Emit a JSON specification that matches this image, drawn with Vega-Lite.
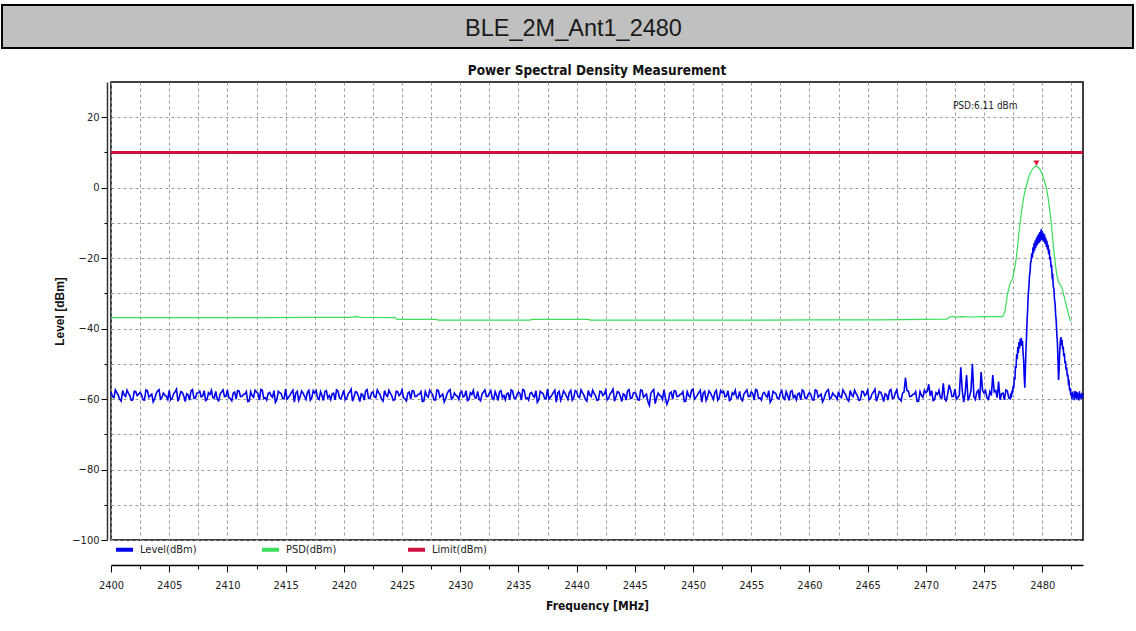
{
  "$schema": "https://vega.github.io/schema/vega-lite/v6.json",
  "background": "white",
  "padding": {"left": 1, "top": 4, "right": 0, "bottom": 0},
  "config": {"view": {"stroke": null}, "font": "Liberation Sans"},
  "datasets": {
    "header": [{"label": "BLE_2M_Ant1_2480"}],
    "spacer": [],
    "limit": [{"f": 2400, "v": 10}, {"f": 2483.5, "v": 10}],
    "peak": [{"f": 2479.5, "v": 6.11, "label": "PSD:6.11 dBm"}],
    "psd": [
      {"f": 2400, "v": -36.9}, {"f": 2410, "v": -36.9}, {"f": 2418, "v": -36.8}, {"f": 2420.5, "v": -36.8}, {"f": 2421, "v": -36.6}, {"f": 2421.5, "v": -36.8},
      {"f": 2424.4, "v": -36.9}, {"f": 2424.6, "v": -37.4}, {"f": 2427.9, "v": -37.4}, {"f": 2428.1, "v": -37.6}, {"f": 2436, "v": -37.6}, {"f": 2436.2, "v": -37.4},
      {"f": 2441, "v": -37.4}, {"f": 2441.2, "v": -37.6}, {"f": 2455, "v": -37.6}, {"f": 2460, "v": -37.5}, {"f": 2466, "v": -37.5}, {"f": 2471.8, "v": -37.3},
      {"f": 2472.0, "v": -36.8}, {"f": 2472.3, "v": -36.5}, {"f": 2472.5, "v": -36.8}, {"f": 2473, "v": -36.6}, {"f": 2474, "v": -36.7}, {"f": 2475, "v": -36.6},
      {"f": 2476.6, "v": -36.6}, {"f": 2476.8, "v": -35}, {"f": 2477.0, "v": -30.5}, {"f": 2477.2, "v": -27.5}, {"f": 2477.45, "v": -25.8}, {"f": 2477.6, "v": -23.5},
      {"f": 2477.75, "v": -20.5}, {"f": 2477.9, "v": -16}, {"f": 2478.0, "v": -12.8}, {"f": 2478.15, "v": -8.5}, {"f": 2478.3, "v": -4.8}, {"f": 2478.45, "v": -2},
      {"f": 2478.6, "v": 0.2}, {"f": 2478.8, "v": 2.6}, {"f": 2479.0, "v": 4.4}, {"f": 2479.2, "v": 5.5}, {"f": 2479.4, "v": 6.05}, {"f": 2479.5, "v": 6.11},
      {"f": 2479.6, "v": 6.0}, {"f": 2479.8, "v": 5.2}, {"f": 2480.0, "v": 3.8}, {"f": 2480.2, "v": 1.8}, {"f": 2480.35, "v": 0}, {"f": 2480.5, "v": -2.8},
      {"f": 2480.65, "v": -6.5}, {"f": 2480.8, "v": -11}, {"f": 2480.95, "v": -16.5}, {"f": 2481.1, "v": -21}, {"f": 2481.25, "v": -24.8}, {"f": 2481.4, "v": -26.8},
      {"f": 2481.55, "v": -27.6}, {"f": 2481.7, "v": -28.5}, {"f": 2481.85, "v": -30.5}, {"f": 2482.0, "v": -32.5}, {"f": 2482.15, "v": -34.5}, {"f": 2482.3, "v": -36.5},
      {"f": 2482.45, "v": -38}
    ],
    "level": [
      {"f":2400,"v":-57.9},{"f":2400.25,"v":-59.6},{"f":2400.5,"v":-58.2},{"f":2400.75,"v":-60.1},{"f":2401,"v":-57.6},{"f":2401.25,"v":-59.3},{"f":2401.5,"v":-58.4},{"f":2401.75,"v":-60.4},{"f":2402,"v":-57.8},{"f":2402.25,"v":-59.0},
      {"f":2402.5,"v":-58.1},{"f":2402.75,"v":-60.2},{"f":2403,"v":-57.4},{"f":2403.25,"v":-59.5},{"f":2403.5,"v":-58.6},{"f":2403.75,"v":-59.9},{"f":2404,"v":-57.7},{"f":2404.25,"v":-60.0},{"f":2404.5,"v":-58.3},{"f":2404.75,"v":-59.2},
      {"f":2405,"v":-57.5},{"f":2405.25,"v":-59.8},{"f":2405.5,"v":-58.0},{"f":2405.75,"v":-60.6},{"f":2406,"v":-57.9},{"f":2406.25,"v":-59.1},{"f":2406.5,"v":-58.5},{"f":2406.75,"v":-60.3},{"f":2407,"v":-57.3},{"f":2407.25,"v":-59.7},
      {"f":2407.5,"v":-58.2},{"f":2407.75,"v":-59.4},{"f":2408,"v":-57.6},{"f":2408.25,"v":-60.1},{"f":2408.5,"v":-58.7},{"f":2408.75,"v":-59.6},{"f":2409,"v":-57.8},{"f":2409.25,"v":-60.5},{"f":2409.5,"v":-58.0},{"f":2409.75,"v":-59.3},
      {"f":2410,"v":-57.4},{"f":2410.25,"v":-59.9},{"f":2410.5,"v":-58.3},{"f":2410.75,"v":-60.0},{"f":2411,"v":-57.7},{"f":2411.25,"v":-59.2},{"f":2411.5,"v":-58.6},{"f":2411.75,"v":-60.7},{"f":2412,"v":-57.9},{"f":2412.25,"v":-59.5},
      {"f":2412.5,"v":-58.0},{"f":2412.75,"v":-60.3},{"f":2413,"v":-57.5},{"f":2413.25,"v":-59.6},{"f":2413.5,"v":-58.4},{"f":2413.75,"v":-59.0},{"f":2414,"v":-57.6},{"f":2414.25,"v":-60.2},{"f":2414.5,"v":-58.2},{"f":2414.75,"v":-59.8},
      {"f":2415,"v":-57.2},{"f":2415.25,"v":-59.5},{"f":2415.5,"v":-58.1},{"f":2415.75,"v":-60.9},{"f":2416,"v":-57.8},{"f":2416.25,"v":-59.3},{"f":2416.5,"v":-58.3},{"f":2416.75,"v":-60.1},{"f":2417,"v":-57.5},{"f":2417.25,"v":-59.6},
      {"f":2417.5,"v":-58.3},{"f":2417.75,"v":-59.7},{"f":2418,"v":-57.9},{"f":2418.25,"v":-60.4},{"f":2418.5,"v":-57.6},{"f":2418.75,"v":-59.0},{"f":2419,"v":-58.5},{"f":2419.25,"v":-60.2},{"f":2419.5,"v":-57.7},{"f":2419.75,"v":-59.9},
      {"f":2420,"v":-57.5},{"f":2420.25,"v":-59.8},{"f":2420.5,"v":-58.0},{"f":2420.75,"v":-60.6},{"f":2421,"v":-57.9},{"f":2421.25,"v":-59.1},{"f":2421.5,"v":-58.5},{"f":2421.75,"v":-60.3},{"f":2422,"v":-57.3},{"f":2422.25,"v":-59.7},
      {"f":2422.5,"v":-57.9},{"f":2422.75,"v":-59.6},{"f":2423,"v":-58.2},{"f":2423.25,"v":-60.1},{"f":2423.5,"v":-57.6},{"f":2423.75,"v":-59.3},{"f":2424,"v":-58.4},{"f":2424.25,"v":-60.4},{"f":2424.5,"v":-57.8},{"f":2424.75,"v":-59.0},
      {"f":2425,"v":-57.4},{"f":2425.25,"v":-59.9},{"f":2425.5,"v":-58.3},{"f":2425.75,"v":-60.0},{"f":2426,"v":-57.7},{"f":2426.25,"v":-59.2},{"f":2426.5,"v":-58.6},{"f":2426.75,"v":-60.7},{"f":2427,"v":-57.9},{"f":2427.25,"v":-59.5},
      {"f":2427.5,"v":-58.1},{"f":2427.75,"v":-60.2},{"f":2428,"v":-57.4},{"f":2428.25,"v":-59.5},{"f":2428.5,"v":-58.6},{"f":2428.75,"v":-59.9},{"f":2429,"v":-57.7},{"f":2429.25,"v":-60.0},{"f":2429.5,"v":-58.3},{"f":2429.75,"v":-59.2},
      {"f":2430,"v":-58.2},{"f":2430.25,"v":-59.4},{"f":2430.5,"v":-57.6},{"f":2430.75,"v":-60.1},{"f":2431,"v":-58.7},{"f":2431.25,"v":-59.6},{"f":2431.5,"v":-57.8},{"f":2431.75,"v":-60.5},{"f":2432,"v":-58.0},{"f":2432.25,"v":-59.3},
      {"f":2432.5,"v":-58.3},{"f":2432.75,"v":-59.7},{"f":2433,"v":-57.9},{"f":2433.25,"v":-60.4},{"f":2433.5,"v":-57.6},{"f":2433.75,"v":-59.0},{"f":2434,"v":-58.5},{"f":2434.25,"v":-60.2},{"f":2434.5,"v":-57.7},{"f":2434.75,"v":-59.9},
      {"f":2435,"v":-58.0},{"f":2435.25,"v":-60.3},{"f":2435.5,"v":-57.5},{"f":2435.75,"v":-59.6},{"f":2436,"v":-58.4},{"f":2436.25,"v":-59.0},{"f":2436.5,"v":-57.6},{"f":2436.75,"v":-60.2},{"f":2437,"v":-58.2},{"f":2437.25,"v":-59.8},
      {"f":2437.5,"v":-57.2},{"f":2437.75,"v":-59.5},{"f":2438,"v":-58.1},{"f":2438.25,"v":-60.9},{"f":2438.5,"v":-57.8},{"f":2438.75,"v":-59.3},{"f":2439,"v":-58.3},{"f":2439.25,"v":-60.1},{"f":2439.5,"v":-57.5},{"f":2439.75,"v":-59.6},
      {"f":2440,"v":-57.9},{"f":2440.25,"v":-59.6},{"f":2440.5,"v":-58.2},{"f":2440.75,"v":-60.1},{"f":2441,"v":-57.6},{"f":2441.25,"v":-59.3},{"f":2441.5,"v":-58.4},{"f":2441.75,"v":-60.4},{"f":2442,"v":-57.8},{"f":2442.25,"v":-59.0},
      {"f":2442.5,"v":-57.5},{"f":2442.75,"v":-59.8},{"f":2443,"v":-58.0},{"f":2443.25,"v":-60.6},{"f":2443.5,"v":-57.9},{"f":2443.75,"v":-59.1},{"f":2444,"v":-58.5},{"f":2444.25,"v":-60.3},{"f":2444.5,"v":-57.3},{"f":2444.75,"v":-59.7},
      {"f":2445,"v":-58.1},{"f":2445.25,"v":-60.2},{"f":2445.5,"v":-57.4},{"f":2445.75,"v":-59.5},{"f":2446,"v":-58.6},{"f":2446.25,"v":-61.8},{"f":2446.5,"v":-57.7},{"f":2446.75,"v":-61.3},{"f":2447,"v":-58.3},{"f":2447.25,"v":-59.2},
      {"f":2447.5,"v":-57.4},{"f":2447.75,"v":-61.5},{"f":2448,"v":-58.3},{"f":2448.25,"v":-60.0},{"f":2448.5,"v":-57.7},{"f":2448.75,"v":-59.2},{"f":2449,"v":-58.6},{"f":2449.25,"v":-60.7},{"f":2449.5,"v":-57.9},{"f":2449.75,"v":-59.5},
      {"f":2450,"v":-57.2},{"f":2450.25,"v":-59.5},{"f":2450.5,"v":-58.1},{"f":2450.75,"v":-60.9},{"f":2451,"v":-57.8},{"f":2451.25,"v":-59.3},{"f":2451.5,"v":-58.3},{"f":2451.75,"v":-60.1},{"f":2452,"v":-57.5},{"f":2452.25,"v":-59.6},
      {"f":2452.5,"v":-58.2},{"f":2452.75,"v":-59.4},{"f":2453,"v":-57.6},{"f":2453.25,"v":-60.1},{"f":2453.5,"v":-58.7},{"f":2453.75,"v":-59.6},{"f":2454,"v":-57.8},{"f":2454.25,"v":-60.5},{"f":2454.5,"v":-58.0},{"f":2454.75,"v":-59.3},
      {"f":2455,"v":-58.0},{"f":2455.25,"v":-60.3},{"f":2455.5,"v":-57.5},{"f":2455.75,"v":-59.6},{"f":2456,"v":-58.4},{"f":2456.25,"v":-59.0},{"f":2456.5,"v":-57.6},{"f":2456.75,"v":-60.2},{"f":2457,"v":-58.2},{"f":2457.25,"v":-59.8},
      {"f":2457.5,"v":-58.3},{"f":2457.75,"v":-59.7},{"f":2458,"v":-57.9},{"f":2458.25,"v":-60.4},{"f":2458.5,"v":-57.6},{"f":2458.75,"v":-59.0},{"f":2459,"v":-58.5},{"f":2459.25,"v":-60.2},{"f":2459.5,"v":-57.7},{"f":2459.75,"v":-59.9},
      {"f":2460,"v":-58.1},{"f":2460.25,"v":-60.2},{"f":2460.5,"v":-57.4},{"f":2460.75,"v":-59.5},{"f":2461,"v":-58.6},{"f":2461.25,"v":-59.9},{"f":2461.5,"v":-57.7},{"f":2461.75,"v":-60.0},{"f":2462,"v":-58.3},{"f":2462.25,"v":-59.2},
      {"f":2462.5,"v":-57.9},{"f":2462.75,"v":-59.6},{"f":2463,"v":-58.2},{"f":2463.25,"v":-60.1},{"f":2463.5,"v":-57.6},{"f":2463.75,"v":-59.3},{"f":2464,"v":-58.4},{"f":2464.25,"v":-60.4},{"f":2464.5,"v":-57.8},{"f":2464.75,"v":-59.0},
      {"f":2465,"v":-57.5},{"f":2465.25,"v":-59.8},{"f":2465.5,"v":-58.0},{"f":2465.75,"v":-60.6},{"f":2466,"v":-57.9},{"f":2466.25,"v":-59.1},{"f":2466.5,"v":-58.5},{"f":2466.75,"v":-60.3},{"f":2467,"v":-57.3},{"f":2467.25,"v":-59.7},
      {"f":2467.5,"v":-57.4},{"f":2467.75,"v":-59.9},{"f":2468,"v":-58.3},{"f":2468.25,"v":-54.0},{"f":2468.5,"v":-57.7},{"f":2468.75,"v":-59.2},{"f":2469,"v":-58.6},{"f":2469.25,"v":-60.7},{"f":2469.5,"v":-57.9},{"f":2469.75,"v":-59.5},
      {"f":2470,"v":-58.2},{"f":2470.25,"v":-55.8},{"f":2470.5,"v":-57.6},{"f":2470.75,"v":-60.1},{"f":2471,"v":-58.7},{"f":2471.25,"v":-59.6},{"f":2471.5,"v":-55.5},{"f":2471.75,"v":-60.5},{"f":2472,"v":-56.0},{"f":2472.25,"v":-59.3},
      {"f":2472.5,"v":-57.2},{"f":2472.75,"v":-59.5},{"f":2473,"v":-51.0},{"f":2473.25,"v":-60.9},{"f":2473.5,"v":-53.2},{"f":2473.75,"v":-59.3},{"f":2474,"v":-50.0},{"f":2474.25,"v":-60.1},{"f":2474.5,"v":-57.5},{"f":2474.75,"v":-52.3},
      {"f":2475,"v":-58.3},{"f":2475.25,"v":-59.7},{"f":2475.5,"v":-57.9},{"f":2475.75,"v":-53.2},{"f":2476,"v":-57.6},{"f":2476.25,"v":-55.0},{"f":2476.5,"v":-58.5},{"f":2476.75,"v":-60.2},{"f":2477,"v":-57.7},{"f":2477.25,"v":-59.9},
      {"f":2400.125,"v":-59.3},{"f":2400.375,"v":-57.4},{"f":2400.625,"v":-58.9},{"f":2400.875,"v":-60.6},{"f":2401.125,"v":-58.8},{"f":2401.375,"v":-57.5},{"f":2401.625,"v":-59.1},{"f":2401.875,"v":-60.2},{"f":2402.125,"v":-57.9},{"f":2402.375,"v":-58.6},
      {"f":2402.625,"v":-58.7},{"f":2402.875,"v":-60.3},{"f":2403.125,"v":-57.6},{"f":2403.375,"v":-59.0},{"f":2403.625,"v":-60.8},{"f":2403.875,"v":-58.4},{"f":2404.125,"v":-57.3},{"f":2404.375,"v":-59.6},{"f":2404.625,"v":-58.9},{"f":2404.875,"v":-60.1},
      {"f":2405.125,"v":-60.2},{"f":2405.375,"v":-58.5},{"f":2405.625,"v":-57.2},{"f":2405.875,"v":-59.4},{"f":2406.125,"v":-58.1},{"f":2406.375,"v":-60.7},{"f":2406.625,"v":-58.8},{"f":2406.875,"v":-57.7},{"f":2407.125,"v":-59.8},{"f":2407.375,"v":-58.3},
      {"f":2407.625,"v":-57.8},{"f":2407.875,"v":-59.1},{"f":2408.125,"v":-60.4},{"f":2408.375,"v":-58.2},{"f":2408.625,"v":-57.5},{"f":2408.875,"v":-59.7},{"f":2409.125,"v":-60.0},{"f":2409.375,"v":-58.6},{"f":2409.625,"v":-57.4},{"f":2409.875,"v":-59.2},
      {"f":2410.125,"v":-59.6},{"f":2410.375,"v":-60.5},{"f":2410.625,"v":-58.0},{"f":2410.875,"v":-57.6},{"f":2411.125,"v":-59.3},{"f":2411.375,"v":-58.7},{"f":2411.625,"v":-57.9},{"f":2411.875,"v":-60.6},{"f":2412.125,"v":-59.0},{"f":2412.375,"v":-57.5},
      {"f":2412.625,"v":-58.4},{"f":2412.875,"v":-57.3},{"f":2413.125,"v":-59.8},{"f":2413.375,"v":-60.3},{"f":2413.625,"v":-58.1},{"f":2413.875,"v":-59.5},{"f":2414.125,"v":-60.9},{"f":2414.375,"v":-57.8},{"f":2414.625,"v":-58.5},{"f":2414.875,"v":-59.9},
      {"f":2415.125,"v":-60.0},{"f":2415.375,"v":-58.9},{"f":2415.625,"v":-57.5},{"f":2415.875,"v":-58.3},{"f":2416.125,"v":-60.4},{"f":2416.375,"v":-57.7},{"f":2416.625,"v":-59.2},{"f":2416.875,"v":-58.1},{"f":2417.125,"v":-60.3},{"f":2417.375,"v":-57.6},
      {"f":2417.625,"v":-57.6},{"f":2417.875,"v":-60.1},{"f":2418.125,"v":-59.0},{"f":2418.375,"v":-57.9},{"f":2418.625,"v":-59.6},{"f":2418.875,"v":-60.2},{"f":2419.125,"v":-58.3},{"f":2419.375,"v":-57.4},{"f":2419.625,"v":-59.7},{"f":2419.875,"v":-58.8},
      {"f":2420.125,"v":-60.2},{"f":2420.375,"v":-58.5},{"f":2420.625,"v":-57.2},{"f":2420.875,"v":-59.4},{"f":2421.125,"v":-58.1},{"f":2421.375,"v":-60.7},{"f":2421.625,"v":-58.8},{"f":2421.875,"v":-57.7},{"f":2422.125,"v":-59.8},{"f":2422.375,"v":-58.3},
      {"f":2422.625,"v":-59.3},{"f":2422.875,"v":-57.4},{"f":2423.125,"v":-58.9},{"f":2423.375,"v":-60.6},{"f":2423.625,"v":-58.8},{"f":2423.875,"v":-57.5},{"f":2424.125,"v":-59.1},{"f":2424.375,"v":-60.2},{"f":2424.625,"v":-57.9},{"f":2424.875,"v":-58.6},
      {"f":2425.125,"v":-59.6},{"f":2425.375,"v":-60.5},{"f":2425.625,"v":-58.0},{"f":2425.875,"v":-57.6},{"f":2426.125,"v":-59.3},{"f":2426.375,"v":-58.7},{"f":2426.625,"v":-57.9},{"f":2426.875,"v":-60.6},{"f":2427.125,"v":-59.0},{"f":2427.375,"v":-57.5},
      {"f":2427.625,"v":-58.7},{"f":2427.875,"v":-60.3},{"f":2428.125,"v":-57.6},{"f":2428.375,"v":-59.0},{"f":2428.625,"v":-60.8},{"f":2428.875,"v":-58.4},{"f":2429.125,"v":-57.3},{"f":2429.375,"v":-59.6},{"f":2429.625,"v":-58.9},{"f":2429.875,"v":-60.1},
      {"f":2430.125,"v":-57.8},{"f":2430.375,"v":-59.1},{"f":2430.625,"v":-60.4},{"f":2430.875,"v":-58.2},{"f":2431.125,"v":-57.5},{"f":2431.375,"v":-59.7},{"f":2431.625,"v":-60.0},{"f":2431.875,"v":-58.6},{"f":2432.125,"v":-57.4},{"f":2432.375,"v":-59.2},
      {"f":2432.625,"v":-57.6},{"f":2432.875,"v":-60.1},{"f":2433.125,"v":-59.0},{"f":2433.375,"v":-57.9},{"f":2433.625,"v":-59.6},{"f":2433.875,"v":-60.2},{"f":2434.125,"v":-58.3},{"f":2434.375,"v":-57.4},{"f":2434.625,"v":-59.7},{"f":2434.875,"v":-58.8},
      {"f":2435.125,"v":-58.4},{"f":2435.375,"v":-57.3},{"f":2435.625,"v":-59.8},{"f":2435.875,"v":-60.3},{"f":2436.125,"v":-58.1},{"f":2436.375,"v":-59.5},{"f":2436.625,"v":-60.9},{"f":2436.875,"v":-57.8},{"f":2437.125,"v":-58.5},{"f":2437.375,"v":-59.9},
      {"f":2437.625,"v":-60.0},{"f":2437.875,"v":-58.9},{"f":2438.125,"v":-57.5},{"f":2438.375,"v":-58.3},{"f":2438.625,"v":-60.4},{"f":2438.875,"v":-57.7},{"f":2439.125,"v":-59.2},{"f":2439.375,"v":-58.1},{"f":2439.625,"v":-60.3},{"f":2439.875,"v":-57.6},
      {"f":2440.125,"v":-59.3},{"f":2440.375,"v":-57.4},{"f":2440.625,"v":-58.9},{"f":2440.875,"v":-60.6},{"f":2441.125,"v":-58.8},{"f":2441.375,"v":-57.5},{"f":2441.625,"v":-59.1},{"f":2441.875,"v":-60.2},{"f":2442.125,"v":-57.9},{"f":2442.375,"v":-58.6},
      {"f":2442.625,"v":-60.2},{"f":2442.875,"v":-58.5},{"f":2443.125,"v":-57.2},{"f":2443.375,"v":-59.4},{"f":2443.625,"v":-58.1},{"f":2443.875,"v":-60.7},{"f":2444.125,"v":-58.8},{"f":2444.375,"v":-57.7},{"f":2444.625,"v":-59.8},{"f":2444.875,"v":-58.3},
      {"f":2445.125,"v":-58.7},{"f":2445.375,"v":-60.3},{"f":2445.625,"v":-57.6},{"f":2445.875,"v":-59.0},{"f":2446.125,"v":-60.8},{"f":2446.375,"v":-58.4},{"f":2446.625,"v":-57.3},{"f":2446.875,"v":-59.6},{"f":2447.125,"v":-58.9},{"f":2447.375,"v":-60.1},
      {"f":2447.625,"v":-59.6},{"f":2447.875,"v":-60.5},{"f":2448.125,"v":-58.0},{"f":2448.375,"v":-57.6},{"f":2448.625,"v":-59.3},{"f":2448.875,"v":-58.7},{"f":2449.125,"v":-57.9},{"f":2449.375,"v":-60.6},{"f":2449.625,"v":-59.0},{"f":2449.875,"v":-57.5},
      {"f":2450.125,"v":-60.0},{"f":2450.375,"v":-58.9},{"f":2450.625,"v":-57.5},{"f":2450.875,"v":-58.3},{"f":2451.125,"v":-60.4},{"f":2451.375,"v":-57.7},{"f":2451.625,"v":-59.2},{"f":2451.875,"v":-58.1},{"f":2452.125,"v":-60.3},{"f":2452.375,"v":-57.6},
      {"f":2452.625,"v":-57.8},{"f":2452.875,"v":-59.1},{"f":2453.125,"v":-60.4},{"f":2453.375,"v":-58.2},{"f":2453.625,"v":-57.5},{"f":2453.875,"v":-59.7},{"f":2454.125,"v":-60.0},{"f":2454.375,"v":-58.6},{"f":2454.625,"v":-57.4},{"f":2454.875,"v":-59.2},
      {"f":2455.125,"v":-58.4},{"f":2455.375,"v":-57.3},{"f":2455.625,"v":-59.8},{"f":2455.875,"v":-60.3},{"f":2456.125,"v":-58.1},{"f":2456.375,"v":-59.5},{"f":2456.625,"v":-60.9},{"f":2456.875,"v":-57.8},{"f":2457.125,"v":-58.5},{"f":2457.375,"v":-59.9},
      {"f":2457.625,"v":-57.6},{"f":2457.875,"v":-60.1},{"f":2458.125,"v":-59.0},{"f":2458.375,"v":-57.9},{"f":2458.625,"v":-59.6},{"f":2458.875,"v":-60.2},{"f":2459.125,"v":-58.3},{"f":2459.375,"v":-57.4},{"f":2459.625,"v":-59.7},{"f":2459.875,"v":-58.8},
      {"f":2460.125,"v":-58.7},{"f":2460.375,"v":-60.3},{"f":2460.625,"v":-57.6},{"f":2460.875,"v":-59.0},{"f":2461.125,"v":-60.8},{"f":2461.375,"v":-58.4},{"f":2461.625,"v":-57.3},{"f":2461.875,"v":-59.6},{"f":2462.125,"v":-58.9},{"f":2462.375,"v":-60.1},
      {"f":2462.625,"v":-59.3},{"f":2462.875,"v":-57.4},{"f":2463.125,"v":-58.9},{"f":2463.375,"v":-60.6},{"f":2463.625,"v":-58.8},{"f":2463.875,"v":-57.5},{"f":2464.125,"v":-59.1},{"f":2464.375,"v":-60.2},{"f":2464.625,"v":-57.9},{"f":2464.875,"v":-58.6},
      {"f":2465.125,"v":-60.2},{"f":2465.375,"v":-58.5},{"f":2465.625,"v":-57.2},{"f":2465.875,"v":-59.4},{"f":2466.125,"v":-58.1},{"f":2466.375,"v":-60.7},{"f":2466.625,"v":-58.8},{"f":2466.875,"v":-57.7},{"f":2467.125,"v":-59.8},{"f":2467.375,"v":-58.3},
      {"f":2467.625,"v":-59.6},{"f":2467.875,"v":-60.5},{"f":2468.125,"v":-58.0},{"f":2468.375,"v":-57.6},{"f":2468.625,"v":-59.3},{"f":2468.875,"v":-58.7},{"f":2469.125,"v":-57.9},{"f":2469.375,"v":-60.6},{"f":2469.625,"v":-59.0},{"f":2469.875,"v":-57.5},
      {"f":2470.125,"v":-57.8},{"f":2470.375,"v":-59.1},{"f":2470.625,"v":-60.4},{"f":2470.875,"v":-58.2},{"f":2471.125,"v":-57.5},{"f":2471.375,"v":-59.7},{"f":2471.625,"v":-60.0},{"f":2471.875,"v":-58.6},{"f":2472.125,"v":-57.4},{"f":2472.375,"v":-59.2},
      {"f":2472.625,"v":-60.0},{"f":2472.875,"v":-58.9},{"f":2473.125,"v":-57.5},{"f":2473.375,"v":-58.3},{"f":2473.625,"v":-60.4},{"f":2473.875,"v":-57.7},{"f":2474.125,"v":-59.2},{"f":2474.375,"v":-58.1},{"f":2474.625,"v":-60.3},{"f":2474.875,"v":-57.6},
      {"f":2475.125,"v":-57.6},{"f":2475.375,"v":-60.1},{"f":2475.625,"v":-59.0},{"f":2475.875,"v":-57.9},{"f":2476.125,"v":-59.6},{"f":2476.375,"v":-60.2},{"f":2476.625,"v":-58.3},{"f":2476.875,"v":-57.4},{"f":2477.125,"v":-59.7},
      {"f":2477.3,"v":-58.4},{"f":2477.35,"v":-59.6},{"f":2477.4,"v":-57.6},{"f":2477.45,"v":-58.4},{"f":2477.5,"v":-56.2},{"f":2477.55,"v":-56.9},{"f":2477.6,"v":-53.8},{"f":2477.65,"v":-54.5},{"f":2477.7,"v":-50.6},{"f":2477.75,"v":-51.2},
      {"f":2477.8,"v":-47.3},{"f":2477.85,"v":-48.6},{"f":2477.9,"v":-45.2},{"f":2477.95,"v":-46.9},{"f":2478.0,"v":-43.8},{"f":2478.05,"v":-45.6},{"f":2478.1,"v":-42.9},{"f":2478.15,"v":-44.8},{"f":2478.2,"v":-42.6},{"f":2478.25,"v":-44.9},
      {"f":2478.3,"v":-43.5},{"f":2478.35,"v":-46.8},{"f":2478.4,"v":-48.9},{"f":2478.45,"v":-53.5},{"f":2478.5,"v":-56.8},{"f":2478.55,"v":-51.4},{"f":2478.6,"v":-46.3},{"f":2478.65,"v":-42.1},{"f":2478.7,"v":-37.5},{"f":2478.75,"v":-34.2},
      {"f":2478.8,"v":-30.1},{"f":2478.85,"v":-28.4},{"f":2478.9,"v":-25.0},{"f":2478.95,"v":-24.1},{"f":2479.0,"v":-21.2},{"f":2479.05,"v":-20.8},{"f":2479.1,"v":-18.6},{"f":2479.15,"v":-19.9},{"f":2479.2,"v":-16.9},{"f":2479.25,"v":-18.6},
      {"f":2479.3,"v":-15.7},{"f":2479.35,"v":-17.8},{"f":2479.4,"v":-14.9},{"f":2479.45,"v":-17.0},{"f":2479.5,"v":-14.2},{"f":2479.55,"v":-16.4},{"f":2479.6,"v":-13.6},{"f":2479.65,"v":-15.9},{"f":2479.7,"v":-13.1},{"f":2479.75,"v":-15.6},
      {"f":2479.8,"v":-12.6},{"f":2479.85,"v":-15.2},{"f":2479.9,"v":-11.8},{"f":2479.95,"v":-14.8},{"f":2480.0,"v":-12.3},{"f":2480.05,"v":-15.0},{"f":2480.1,"v":-12.9},{"f":2480.15,"v":-15.4},{"f":2480.2,"v":-13.3},{"f":2480.25,"v":-16.0},
      {"f":2480.3,"v":-14.2},{"f":2480.35,"v":-16.8},{"f":2480.4,"v":-15.1},{"f":2480.45,"v":-17.6},{"f":2480.5,"v":-16.2},{"f":2480.55,"v":-18.9},{"f":2480.6,"v":-17.5},{"f":2480.65,"v":-20.4},{"f":2480.7,"v":-19.6},{"f":2480.75,"v":-22.6},
      {"f":2480.8,"v":-21.9},{"f":2480.85,"v":-25.3},{"f":2480.9,"v":-25.0},{"f":2480.95,"v":-28.2},{"f":2481.0,"v":-28.6},{"f":2481.05,"v":-31.7},{"f":2481.1,"v":-32.8},{"f":2481.15,"v":-36.1},{"f":2481.2,"v":-37.9},{"f":2481.25,"v":-41.5},
      {"f":2481.3,"v":-43.8},{"f":2481.35,"v":-48.7},{"f":2481.4,"v":-54.6},{"f":2481.45,"v":-51.2},{"f":2481.5,"v":-46.5},{"f":2481.55,"v":-43.6},{"f":2481.6,"v":-42.4},{"f":2481.65,"v":-44.7},{"f":2481.7,"v":-43.2},{"f":2481.75,"v":-45.9},
      {"f":2481.8,"v":-45.1},{"f":2481.85,"v":-47.8},{"f":2481.9,"v":-47.0},{"f":2481.95,"v":-49.9},{"f":2482.0,"v":-49.2},{"f":2482.05,"v":-51.8},{"f":2482.1,"v":-51.0},{"f":2482.15,"v":-53.6},{"f":2482.2,"v":-53.0},{"f":2482.25,"v":-55.4},
      {"f":2482.3,"v":-55.1},{"f":2482.35,"v":-57.6},{"f":2482.4,"v":-56.9},{"f":2482.45,"v":-59.0},{"f":2482.5,"v":-58.2},{"f":2482.55,"v":-60.0},{"f":2482.6,"v":-57.9},{"f":2482.65,"v":-59.4},{"f":2482.7,"v":-58.6},{"f":2482.75,"v":-60.3},
      {"f":2482.8,"v":-57.7},{"f":2482.85,"v":-59.6},{"f":2482.9,"v":-57.9},{"f":2482.95,"v":-60.2},{"f":2483.0,"v":-58.1},{"f":2483.05,"v":-59.8},{"f":2483.1,"v":-58.4},{"f":2483.15,"v":-60.4},{"f":2483.2,"v":-57.8},{"f":2483.25,"v":-59.5},
      {"f":2483.3,"v":-58.8},{"f":2483.35,"v":-60.1},{"f":2483.4,"v":-58.3},{"f":2483.45,"v":-59.6},{"f":2483.5,"v":-58.6}
    ]
  },
  "vconcat": [
    {
      "width": 1131,
      "height": 43,
      "view": {"fill": "#c0c0c0", "stroke": "#000000", "strokeWidth": 2},
      "data": {"name": "header"},
      "mark": {"type": "text", "font": "Liberation Sans", "fontSize": 23.5, "color": "#1a1a1a", "baseline": "middle", "dx": 6, "dy": 2},
      "encoding": {"text": {"field": "label", "type": "nominal"}}
    },
    {
      "spacing": 0,
      "hconcat": [
        {
          "width": 51,
          "height": 10,
          "data": {"name": "spacer"},
          "mark": {"type": "point", "opacity": 0},
          "encoding": {}
        },
        {
          "width": 972,
          "height": 458,
          "view": {"fill": "white", "stroke": "#000000", "strokeWidth": 1.5},
          "title": {"text": "Power Spectral Density Measurement", "font": "DejaVu Sans Condensed, DejaVu Sans, sans-serif", "fontSize": 13.5, "fontWeight": "bold", "color": "#111111", "baseline": "alphabetic", "offset": -6, "anchor": "middle"},
          "encoding": {
            "x": {
              "field": "f", "type": "quantitative",
              "scale": {"domain": [2400, 2483.5], "nice": false, "zero": false},
              "axis": {
                "title": "Frequency [MHz]", "titleFont": "DejaVu Sans Condensed, DejaVu Sans, sans-serif", "titleFontSize": 12, "titleFontWeight": "bold", "titleColor": "#111111", "titlePadding": 10,
                "values": [2400,2402.5,2405,2407.5,2410,2412.5,2415,2417.5,2420,2422.5,2425,2427.5,2430,2432.5,2435,2437.5,2440,2442.5,2445,2447.5,2450,2452.5,2455,2457.5,2460,2462.5,2465,2467.5,2470,2472.5,2475,2477.5,2480,2482.5],
                "format": "d",
                "labelExpr": "datum.value % 5 === 0 ? datum.label : ''",
                "labelFont": "DejaVu Sans Condensed, DejaVu Sans, sans-serif", "labelFontSize": 11, "labelColor": "#222222", "labelPadding": 7,
                "labelFlush": false, "labelOverlap": false,
                "offset": 25,
                "domainColor": "#000000", "domainWidth": 1.5,
                "tickColor": "#000000", "tickWidth": 1,
                "tickSize": {"condition": {"test": "datum.value % 5 === 0", "value": 7}, "value": 4},
                "grid": true, "gridColor": "#9a9a9a", "gridDash": [3, 3], "gridWidth": 1
              }
            },
            "y": {
              "field": "v", "type": "quantitative",
              "scale": {"domain": [-100, 30], "nice": false, "zero": false},
              "axis": {
                "title": "Level [dBm]", "titleFont": "Liberation Sans", "titleFontSize": 12, "titleFontWeight": "bold", "titleColor": "#111111", "titlePadding": 5,
                "values": [-100,-90,-80,-70,-60,-50,-40,-30,-20,-10,0,10,20],
                "labelExpr": "datum.value % 20 === 0 ? datum.label : ''",
                "labelFont": "DejaVu Sans Condensed, DejaVu Sans, sans-serif", "labelFontSize": 11, "labelColor": "#222222", "labelPadding": 2,
                "labelOverlap": false,
                "offset": 4,
                "domainColor": "#333333", "domainWidth": 1.5,
                "tickColor": "#000000", "tickWidth": 1,
                "tickSize": {"condition": {"test": "datum.value % 20 === 0", "value": 6}, "value": 3},
                "grid": true, "gridColor": "#9a9a9a", "gridDash": [3, 3], "gridWidth": 1
              }
            }
          },
          "layer": [
            {
              "data": {"name": "level"},
              "mark": {"type": "line", "strokeWidth": 1.6, "interpolate": "linear"},
              "encoding": {
                "color": {
                  "datum": "Level(dBm)", "type": "nominal",
                  "scale": {"domain": ["Level(dBm)", "PSD(dBm)", "Limit(dBm)"], "range": ["#0000ee", "#3ade5a", "#d0103e"]},
                  "legend": {
                    "orient": "none", "legendX": 112, "legendY": 534, "direction": "horizontal", "title": null,
                    "symbolType": "stroke", "symbolStrokeWidth": 4, "symbolSize": 289,
                    "labelFont": "DejaVu Sans Condensed, DejaVu Sans, sans-serif", "labelFontSize": 11, "labelColor": "#222222",
                    "columnPadding": 57, "gridAlign": "all", "labelOffset": 5, "padding": 0
                  }
                }
              }
            },
            {
              "data": {"name": "psd"},
              "mark": {"type": "line", "strokeWidth": 1.2},
              "encoding": {"color": {"datum": "PSD(dBm)", "type": "nominal"}}
            },
            {
              "data": {"name": "limit"},
              "mark": {"type": "line", "strokeWidth": 3},
              "encoding": {"color": {"datum": "Limit(dBm)", "type": "nominal"}}
            },
            {
              "data": {"name": "peak"},
              "mark": {"type": "point", "shape": "triangle-down", "filled": true, "color": "#e0103c", "size": 36, "opacity": 1, "yOffset": -3},
              "encoding": {}
            },
            {
              "data": {"name": "peak"},
              "mark": {"type": "text", "font": "DejaVu Sans Condensed, DejaVu Sans, sans-serif", "fontSize": 10, "color": "#222222", "baseline": "middle", "align": "center"},
              "encoding": {
                "x": {"datum": 2475.1, "type": "quantitative"},
                "y": {"datum": 23.1, "type": "quantitative"},
                "text": {"field": "label", "type": "nominal"}
              }
            }
          ]
        }
      ]
    }
  ],
  "spacing": 13
}
